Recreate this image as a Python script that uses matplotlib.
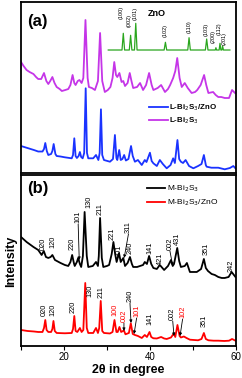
import matplotlib
matplotlib.use("Agg")
import matplotlib.pyplot as plt

plt.rcParams['font.family'] = ['Liberation Sans', 'DejaVu Sans']

# ---- panel (a) ----
l_bi2s3_x = [10.0, 10.6, 11.3, 12.0, 12.9, 13.5, 14.0, 14.7, 15.35, 15.9, 16.35, 16.8, 17.3, 17.8,
             18.3, 19.0, 19.5, 20.3, 21.0, 21.5, 22.0, 22.4, 22.7, 23.2, 23.6, 24.1, 24.5, 25.0,
             25.5, 25.8, 26.5, 27.2, 27.9, 28.4, 28.9, 29.5, 30.2, 30.8, 31.3, 31.7, 32.1, 32.4,
             32.9, 33.4, 33.8, 34.2, 34.8, 35.3, 35.7, 36.1, 37.0, 37.7, 38.4, 39.1, 39.8, 40.4,
             40.8, 41.8, 42.6, 43.5, 44.2, 44.7, 45.4, 45.9, 46.35, 46.9, 47.4, 48.1, 48.8, 49.7,
             50.5, 51.0, 51.8, 52.6, 53.1, 53.6, 54.7, 55.3, 55.9, 56.6, 57.4, 58.4, 59.1, 59.8]
l_bi2s3_y = [111, 107, 103, 101, 99, 96, 94, 94, 100, 92, 89, 92, 96, 90,
             86, 84, 82, 83, 84, 88, 98, 90, 88, 92, 93, 90, 95, 153,
             95, 86, 85, 83, 92, 140, 92, 81, 83, 86, 95, 111, 98, 96,
             100, 91, 92, 87, 90, 100, 92, 85, 86, 90, 83, 88, 100, 88,
             83, 85, 88, 81, 84, 88, 95, 102, 115, 95, 86, 90, 85, 80,
             81, 83, 88, 98, 88, 80, 81, 78, 76, 76, 75, 75, 83, 80]

l_bi2s3_zno_x = [10.0, 11.5, 13.0, 14.0, 15.0, 15.35, 15.65, 16.0, 16.35, 17.0, 17.3, 17.6, 18.0,
                 18.3, 19.2, 20.2, 21.8, 22.1, 22.4, 22.7, 23.0, 23.4, 23.7, 24.0, 24.35, 24.7,
                 25.05, 25.35, 25.65, 26.8, 27.45, 28.0, 28.3, 28.6, 28.9, 29.3, 30.7, 31.4,
                 31.85, 32.2, 32.4, 32.85, 33.2, 33.6, 34.0, 34.4, 35.0, 35.6, 36.0, 36.5, 37.2,
                 38.1, 38.8, 39.2, 40.0, 40.4, 40.8, 41.6, 42.3, 43.0, 43.9, 44.8, 45.4, 45.8,
                 46.4, 46.8, 47.2, 47.7, 48.3, 49.1, 50.1, 51.2, 52.0, 52.55, 53.0, 53.2, 54.3,
                 55.9, 57.4, 58.6, 59.4, 59.9]
l_bi2s3_zno_y = [27, 25, 23, 21.5, 21.5, 24, 30, 22, 18, 19, 22, 29, 19,
                 17, 16.5, 15.7, 14.7, 18, 34.7, 17, 15, 17, 21, 16, 14.7, 20,
                 84.7, 20, 14.7, 14.7, 18, 13, 20, 63.7, 18, 13, 11.3, 14,
                 38, 15, 13, 23, 13, 14, 18, 12.5, 14, 27, 17, 11.3, 13,
                 8, 13, 11, 20.3, 12, 9.7, 7, 13, 9, 4.7, 8, 14.7, 10,
                 33, 14, 11.3, 10, 13, 7, 4.7, 7, 9, 18, 8, 6.3, 5.3,
                 5.3, 3.7, 5, 7, 4.7]

zno_x = [30.3, 33.5, 33.8, 34.1, 35.2, 35.5, 35.8, 36.4, 36.7, 37.0, 43.3, 43.6, 43.9,
         48.8, 49.1, 49.4, 52.9, 53.2, 53.5, 55.2, 55.35, 55.5, 56.1, 56.3, 56.5, 56.75,
         56.9, 57.1, 58.6]
zno_y = [123, 123, 139.7, 123, 123, 137.7, 123, 123, 149.7, 123, 123, 130.7, 123,
         123, 135.3, 123, 123, 134, 123, 123, 125.3, 123, 123, 129.7, 123, 123,
         127, 123, 123]

zno_labels = ['(100)', '(002)', '(101)', '(102)', '(110)', '(103)', '(200)', '(112)', '(201)']
zno_label_x = [33.4, 35.2, 36.6, 43.6, 49.1, 53.0, 54.7, 56.1, 57.2]
zno_label_y = [153.7, 146.3, 153, 136.3, 139.7, 137, 130.3, 138, 128]

# ---- panel (b) ----
m_bi2s3_x = [10.0, 11.3, 12.9, 14.0, 14.8, 15.3, 15.8, 16.35, 16.9, 17.3, 17.9, 19.2, 20.2,
             21.0, 21.5, 21.9, 22.3, 22.5, 23.0, 23.3, 23.7, 24.0, 24.4, 24.8, 25.3, 25.65,
             26.7, 27.45, 27.9, 28.1, 28.4, 28.8, 29.15, 30.0, 30.5, 31.1, 31.5, 31.9, 32.25,
             32.8, 33.2, 33.8, 34.2, 34.8, 35.35, 35.8, 36.1, 37.0, 38.4, 38.8, 39.3, 39.8,
             40.3, 40.8, 41.6, 42.3, 43.3, 44.2, 44.9, 45.3, 45.6, 46.35, 46.8, 47.2, 48.1,
             48.6, 49.3, 50.2, 50.9, 51.9, 52.55, 53.0, 53.5, 54.35, 55.1, 55.9, 56.7, 57.4,
             58.3, 59.0, 59.9]
m_bi2s3_y = [109, 104, 99, 96, 91, 95, 89, 88, 89, 91, 86, 83, 81,
             80, 84, 91, 83, 80, 84, 88, 82, 79, 90, 134, 90, 79,
             80, 84, 80, 90, 128, 88, 79, 80, 81, 92, 104, 92, 84,
             93, 84, 88, 80, 83, 89, 82, 79, 79, 81, 84, 82, 90,
             82, 78, 77, 81, 76, 80, 86, 80, 82, 98, 85, 79, 80,
             83, 74, 74, 74, 77, 87, 78, 75, 72, 71, 69, 68, 68,
             69, 74, 69]

m_bi2s3_zno_x = [10.0, 11.5, 13.0, 14.0, 15.0, 15.35, 15.65, 15.95, 16.35, 17.0, 17.3, 17.55,
                 17.85, 18.3, 20.2, 21.8, 22.1, 22.4, 22.7, 23.1, 23.7, 24.1, 24.5, 24.95, 25.3,
                 25.65, 26.8, 27.45, 27.9, 28.2, 28.55, 28.9, 29.3, 30.7, 31.3, 31.75, 32.2,
                 32.5, 32.9, 33.3, 33.95, 34.3, 35.1, 35.55, 36.0, 36.5, 37.2, 38.1, 38.8, 39.3,
                 39.9, 40.3, 40.8, 41.6, 42.6, 43.3, 43.9, 44.9, 45.55, 45.9, 46.4, 46.9, 47.2,
                 47.9, 48.5, 49.3, 50.2, 51.2, 52.0, 52.55, 53.0, 53.6, 54.8, 55.9, 57.3, 58.4,
                 59.1, 59.9]
m_bi2s3_zno_y = [16, 15, 14.5, 14, 14, 18, 26, 16, 14, 14, 17, 25,
                 15, 13, 12.7, 13, 17, 30, 15, 14, 18, 14, 16, 63, 18,
                 13, 13, 18, 13, 18, 45, 15, 13, 12.5, 14, 26, 14,
                 14, 19, 14, 15.5, 11.7, 13, 22.7, 12, 11, 10, 8, 11, 9,
                 14, 9, 7.7, 7.5, 9, 7.5, 7, 8.5, 12.5, 9, 21, 10, 8.5,
                 9.5, 8, 6.3, 6, 5.7, 7, 13, 7, 5.7, 5.3, 5.3, 5, 5.3,
                 7, 5.3]

# (text, x, y of text bottom, color, arrow tip or None)
m_labels = [('020', 15.2, 96, 'k', None), ('120', 17.4, 98, 'k', None),
            ('220', 21.8, 96, 'k', None), ('101', 23.3, 123, 'k', (23.55, 86)),
            ('130', 25.7, 138, 'k', None), ('211', 28.4, 131, 'k', None),
            ('221', 31.3, 106, 'k', None), ('301', 32.9, 89, 'k', None),
            ('311', 35.0, 113, 'k', (34.0, 88)), ('240', 35.5, 92, 'k', None),
            ('141', 40.0, 92, 'k', None), ('421', 42.5, 81, 'k', None),
            ('002', 44.65, 96, 'k', (45.3, 80)), ('431', 46.45, 101, 'k', None),
            ('351', 53.0, 91, 'k', None), ('242', 59.0, 74, 'k', None)]
mz_labels = [('020', 15.35, 30, 'k', None), ('120', 17.4, 30, 'k', None),
             ('220', 22.2, 33, 'k', None), ('130', 26.05, 49, 'k', None),
             ('211', 28.6, 48, 'k', None), ('100', 31.9, 30, 'r', None),
             ('002', 33.95, 24, 'r', (33.95, 15)), ('240', 35.35, 44, 'k', (35.6, 23)),
             ('101', 36.9, 29, 'r', (36.3, 12)), ('141', 40.0, 21, 'k', None),
             ('002', 45.3, 26, 'k', (45.6, 10)), ('102', 47.6, 28, 'r', (47.0, 10)),
             ('351', 52.55, 19, 'k', None)]

fig = plt.figure(figsize=(2.42, 3.78), dpi=100)
ax_a = fig.add_axes([0.0868, 0.5423, 0.888, 0.4524])
ax_b = fig.add_axes([0.0868, 0.0847, 0.888, 0.4524])

purple = '#c535e8'
blue = '#1a33ff'
green = '#2aa61e'
red = '#ff0000'

ax_a.plot(l_bi2s3_zno_x, l_bi2s3_zno_y, color=blue, lw=1.3, label='L-Bi$_2$S$_3$/ZnO')
ax_a.plot(l_bi2s3_x, l_bi2s3_y, color=purple, lw=1.3, label='L-Bi$_2$S$_3$')
ax_a.plot(zno_x, zno_y, color=green, lw=0.9)
for t, x, y in zip(zno_labels, zno_label_x, zno_label_y):
    ax_a.text(x, y, t, rotation=90, ha='center', va='bottom', fontsize=4)
ax_a.text(41.6, 159.5, 'ZnO', ha='center', va='center', fontsize=6.5, weight='bold')
ax_a.text(0.03, 0.885, '(a)', transform=ax_a.transAxes, fontsize=12, weight='bold', va='center')
ax_a.legend(loc='upper left', bbox_to_anchor=(0.58, 0.43), frameon=False,
            prop={'weight': 'bold', 'size': 5.7}, handlelength=2.4, handletextpad=0.2,
            labelspacing=0.35, borderaxespad=0)

ax_b.plot(m_bi2s3_x, m_bi2s3_y, color='k', lw=1.3, label='M-Bi$_2$S$_3$')
ax_b.plot(m_bi2s3_zno_x, m_bi2s3_zno_y, color=red, lw=1.3, label='M-Bi$_2$S$_3$/ZnO')
for lab in m_labels + mz_labels:
    t, x, y, c, tip = lab
    ax_b.text(x, y, t, rotation=90, ha='center', va='bottom', fontsize=5.3,
              color=red if c == 'r' else 'k')
    if tip is not None:
        ax_b.annotate('', xy=tip, xytext=(x, y - 1),
                      arrowprops=dict(arrowstyle='-|>', lw=0.6, color='k',
                                      mutation_scale=4, shrinkA=0, shrinkB=0))
ax_b.text(0.03, 0.92, '(b)', transform=ax_b.transAxes, fontsize=12, weight='bold', va='center')
ax_b.legend(loc='upper left', bbox_to_anchor=(0.57, 0.97), frameon=False,
            prop={'size': 6}, handlelength=2.2, handletextpad=0.2,
            labelspacing=0.45, borderaxespad=0)

for ax in (ax_a, ax_b):
    ax.set_xlim(10, 60)
    ax.set_ylim(0, 171)
    ax.set_yticks([])
    for s in ax.spines.values():
        s.set_linewidth(1.3)

ax_a.set_xticks([])
ax_b.set_xticks([20, 40, 60])
ax_b.set_xticks([10, 30, 50], minor=True)
ax_b.tick_params(axis='x', which='both', direction='out', length=3, width=0.8,
                 labelsize=7, pad=1.5)
ax_b.set_xlabel('2θ in degree', fontsize=9, weight='bold', labelpad=1)
fig.text(0.045, 0.31, 'Intensity', rotation=90, ha='center', va='center',
         fontsize=9, weight='bold')

fig.savefig('out.png', dpi=100)
